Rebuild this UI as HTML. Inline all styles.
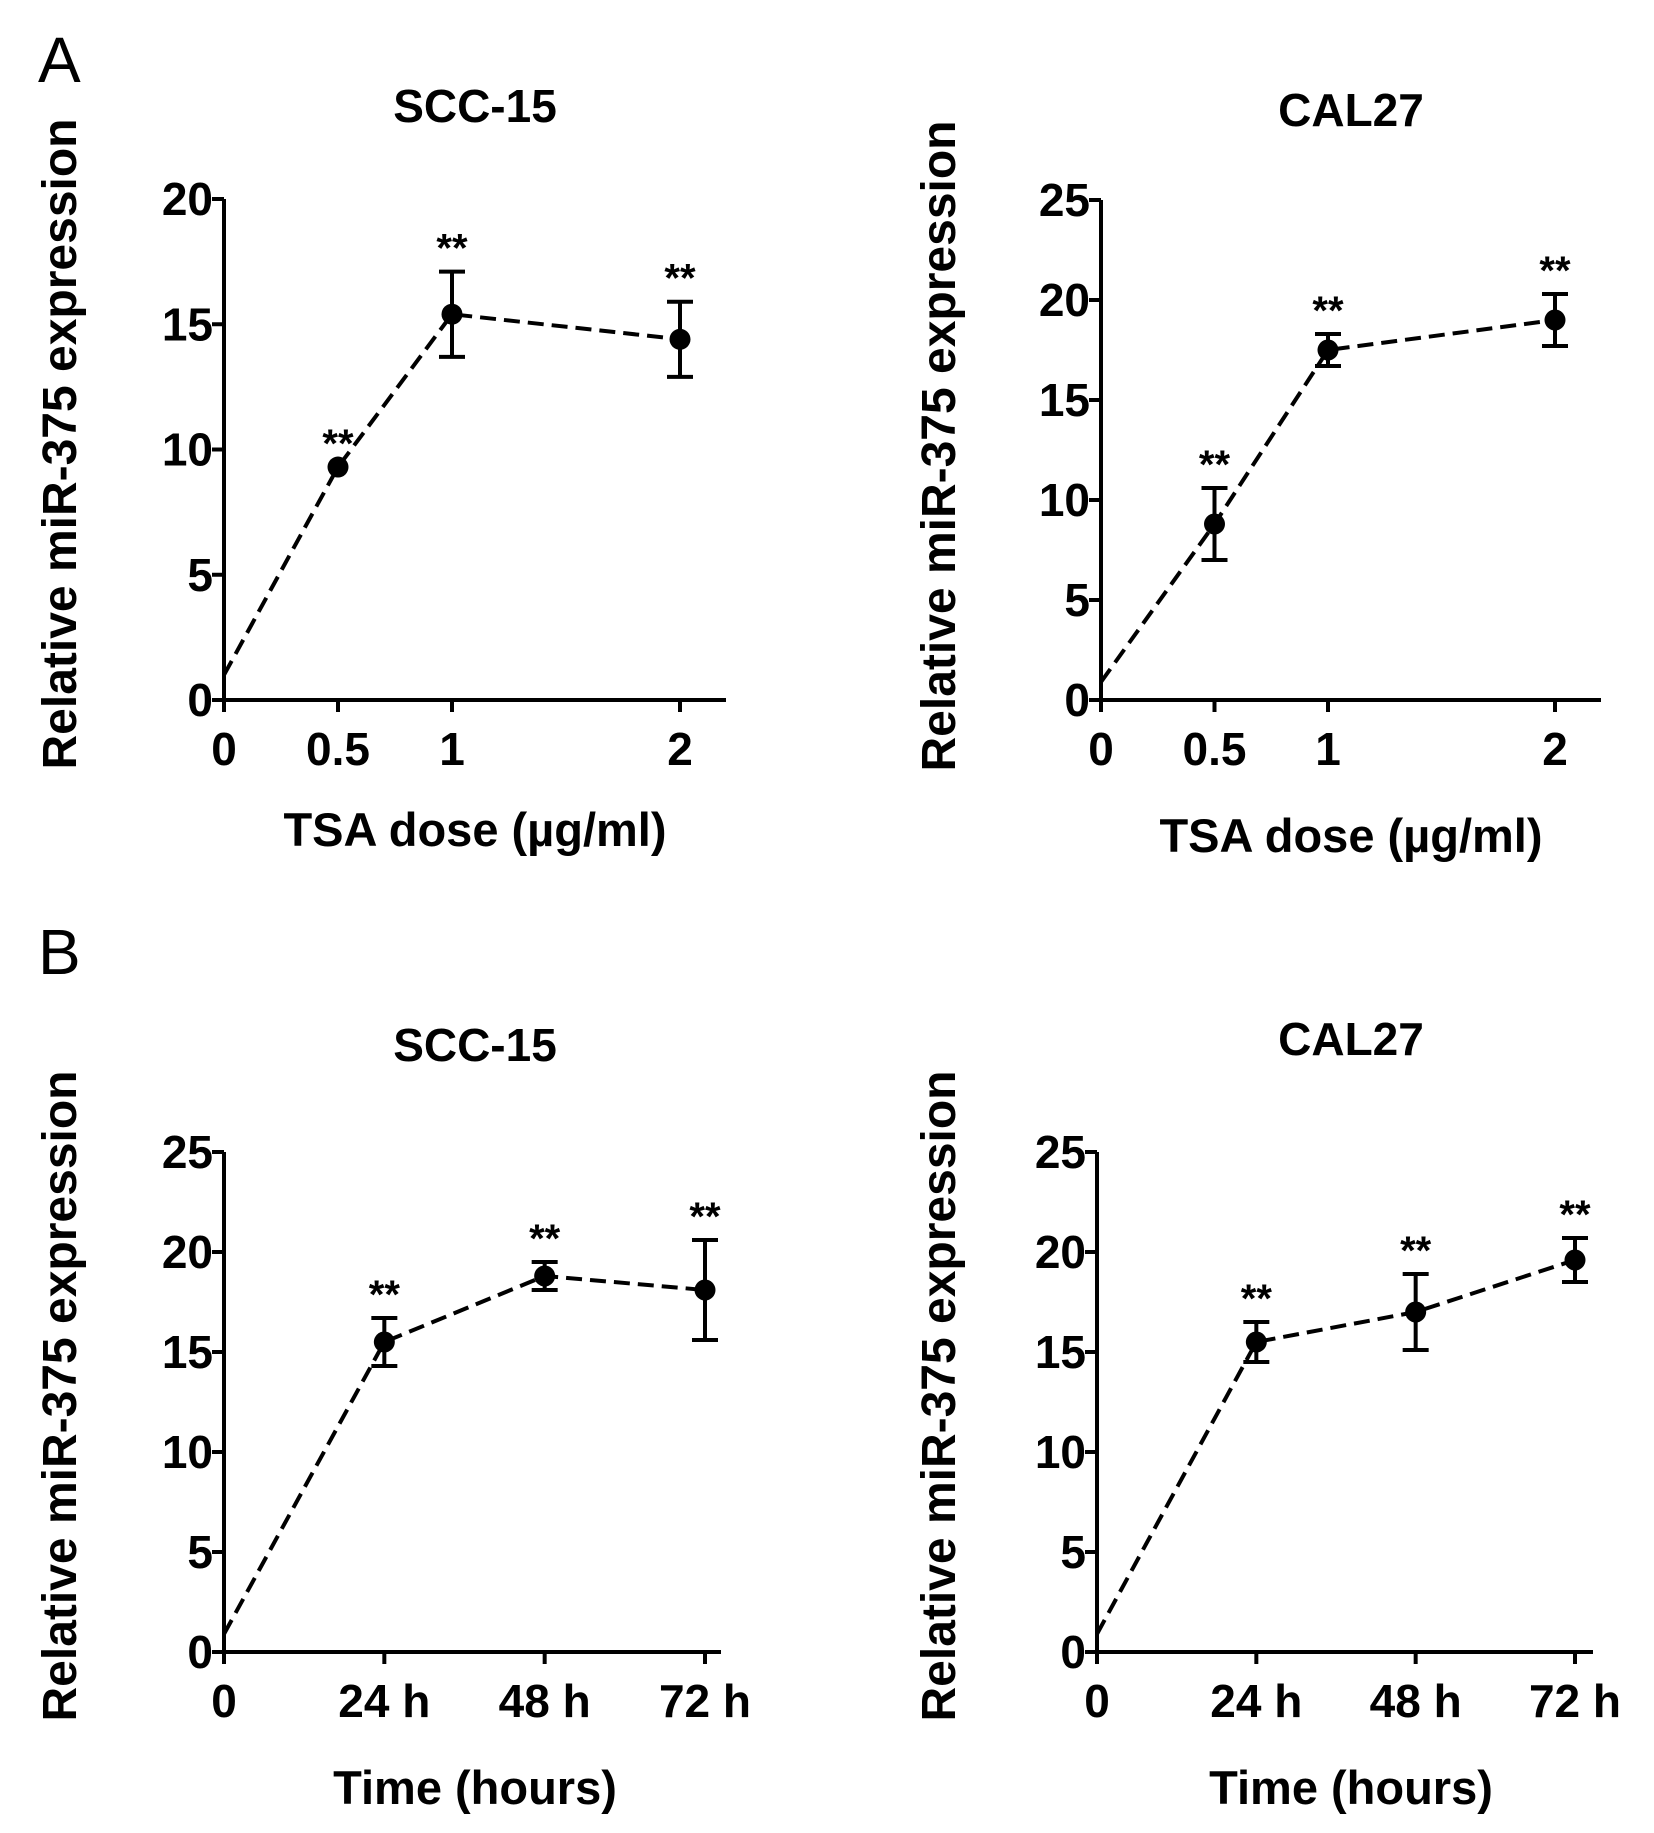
<!DOCTYPE html>
<html><head><meta charset="utf-8">
<style>
html,body{margin:0;padding:0;background:#fff;}
svg{display:block;font-family:"Liberation Sans",Arial,sans-serif;font-weight:bold;}
</style></head>
<body>
<svg id="fig" width="1654" height="1833" viewBox="0 0 1654 1833" xmlns="http://www.w3.org/2000/svg">
<text x="38" y="82" font-size="64" font-weight="normal">A</text>
<text x="38" y="974" font-size="64" font-weight="normal">B</text>
</svg>
<script>
// Panel A left: SCC-15 dose
const aLeftX = [0, 0.5, 1, 2];
const aLeftTicksX = ["0", "0.5", "1", "2"];
const aLeftMean = [1.0, 9.3, 15.4, 14.4];
const aLeftErr = [0, 0, 1.7, 1.5];
const aLeftTicksY = [0, 5, 10, 15, 20];
// Panel A right: CAL27 dose
const aRightX = [0, 0.5, 1, 2];
const aRightTicksX = ["0", "0.5", "1", "2"];
const aRightMean = [0.9, 8.8, 17.5, 19.0];
const aRightErr = [0, 1.8, 0.8, 1.3];
const aRightTicksY = [0, 5, 10, 15, 20, 25];
// Panel B left: SCC-15 time
const bLeftX = [0, 24, 48, 72];
const bLeftTicksX = ["0", "24 h", "48 h", "72 h"];
const bLeftMean = [0.9, 15.5, 18.8, 18.1];
const bLeftErr = [0, 1.2, 0.7, 2.5];
const bLeftTicksY = [0, 5, 10, 15, 20, 25];
// Panel B right: CAL27 time
const bRightX = [0, 24, 48, 72];
const bRightTicksX = ["0", "24 h", "48 h", "72 h"];
const bRightMean = [0.9, 15.5, 17.0, 19.6];
const bRightErr = [0, 1.0, 1.9, 1.1];
const bRightTicksY = [0, 5, 10, 15, 20, 25];

const NS = "http://www.w3.org/2000/svg";
const svg = document.getElementById("fig");
function mk(tag, attrs, parent) {
  const e = document.createElementNS(NS, tag);
  for (const k in attrs) e.setAttribute(k, attrs[k]);
  (parent || svg).appendChild(e);
  return e;
}
function panel(cfg, xs, xl, mean, err, yt) {
  const g = mk("g", {});
  
  
  const ymax = yt[yt.length - 1];
  const xmax = xs[xs.length - 1];
  const X = v => cfg.x0 + (v / xmax) * (cfg.xLast - cfg.x0);
  const Y = v => cfg.y0 - (v / ymax) * (cfg.y0 - cfg.yTop);
  const ya = mk("line", {x1: cfg.x0, y1: cfg.yTop, x2: cfg.x0, y2: cfg.y0 + 1, stroke: "#000", "stroke-width": 4}, g);
  
  
  const xa = mk("line", {x1: cfg.x0 - 12, y1: cfg.y0, x2: cfg.xEnd, y2: cfg.y0, stroke: "#000", "stroke-width": 4}, g);
  
  
  yt.forEach(v => {
    mk("line", {x1: cfg.x0 - 12, y1: Y(v), x2: cfg.x0, y2: Y(v), stroke: "#000", "stroke-width": 4}, g);
    const t = mk("text", {x: cfg.x0 - 11, y: Y(v) + 16, "font-size": 46, "text-anchor": "end"}, g);
    t.textContent = v;
    
    
  });
  xs.forEach((v, i) => {
    mk("line", {x1: X(v), y1: cfg.y0, x2: X(v), y2: cfg.y0 + 12, stroke: "#000", "stroke-width": 4}, g);
    const t = mk("text", {x: X(v), y: cfg.y0 + 65, "font-size": 46, "text-anchor": "middle"}, g);
    t.textContent = xl[i];
    
    
  });
  const pts = xs.map((v, i) => X(v) + "," + Y(mean[i])).join(" ");
  const pl = mk("polyline", {points: pts, fill: "none", stroke: "#000", "stroke-width": 4, "stroke-dasharray": "16 8"}, g);
  
  
  xs.forEach((v, i) => {
    if (i === 0) return;
    const cx = X(v), cy = Y(mean[i]);
    if (err[i] > 0) {
      const hi = Y(mean[i] + err[i]), lo = Y(mean[i] - err[i]);
      const eb = mk("path", {d: `M${cx},${hi}V${lo}M${cx-13},${hi}H${cx+13}M${cx-13},${lo}H${cx+13}`, stroke: "#000", "stroke-width": 4, fill: "none"}, g);
      
      
    }
    const c = mk("circle", {cx: cx, cy: cy, r: 10.5, fill: "#000"}, g);
    
    
    const st = mk("text", {x: cx, y: Y(mean[i] + err[i]) - 10, "font-size": 40, "text-anchor": "middle"}, g);
    st.textContent = "**";
    
    
  });
  const tt = mk("text", {x: cfg.titleX, y: cfg.titleY, "font-size": 46, "text-anchor": "middle"}, g);
  tt.textContent = cfg.title;
  
  
  const xt = mk("text", {x: cfg.titleX, y: cfg.xTitleY, "font-size": 47, "text-anchor": "middle"}, g);
  xt.textContent = cfg.xTitle;
  
  
  const yy = mk("text", {x: 0, y: 0, "font-size": 48, "text-anchor": "middle", transform: `translate(${cfg.yTitleX},${cfg.yTitleCy}) rotate(-90)`}, g);
  yy.textContent = "Relative miR-375 expression";
  
  
}
panel({name: "panel-a-scc15", x0: 224, xLast: 680, xEnd: 726, y0: 700, yTop: 199, title: "SCC-15", titleX: 475, titleY: 122, xTitle: "TSA dose (µg/ml)", xTitleY: 846, yTitleX: 76, yTitleCy: 444}, aLeftX, aLeftTicksX, aLeftMean, aLeftErr, aLeftTicksY);
panel({name: "panel-a-cal27", x0: 1101, xLast: 1555, xEnd: 1601, y0: 700, yTop: 200, title: "CAL27", titleX: 1351, titleY: 126, xTitle: "TSA dose (µg/ml)", xTitleY: 852, yTitleX: 955, yTitleCy: 446}, aRightX, aRightTicksX, aRightMean, aRightErr, aRightTicksY);
panel({name: "panel-b-scc15", x0: 224, xLast: 705, xEnd: 721, y0: 1652, yTop: 1152, title: "SCC-15", titleX: 475, titleY: 1061, xTitle: "Time (hours)", xTitleY: 1804, yTitleX: 76, yTitleCy: 1396}, bLeftX, bLeftTicksX, bLeftMean, bLeftErr, bLeftTicksY);
panel({name: "panel-b-cal27", x0: 1097, xLast: 1575, xEnd: 1593, y0: 1652, yTop: 1152, title: "CAL27", titleX: 1351, titleY: 1055, xTitle: "Time (hours)", xTitleY: 1804, yTitleX: 955, yTitleCy: 1396}, bRightX, bRightTicksX, bRightMean, bRightErr, bRightTicksY);
</script>
</body></html>
